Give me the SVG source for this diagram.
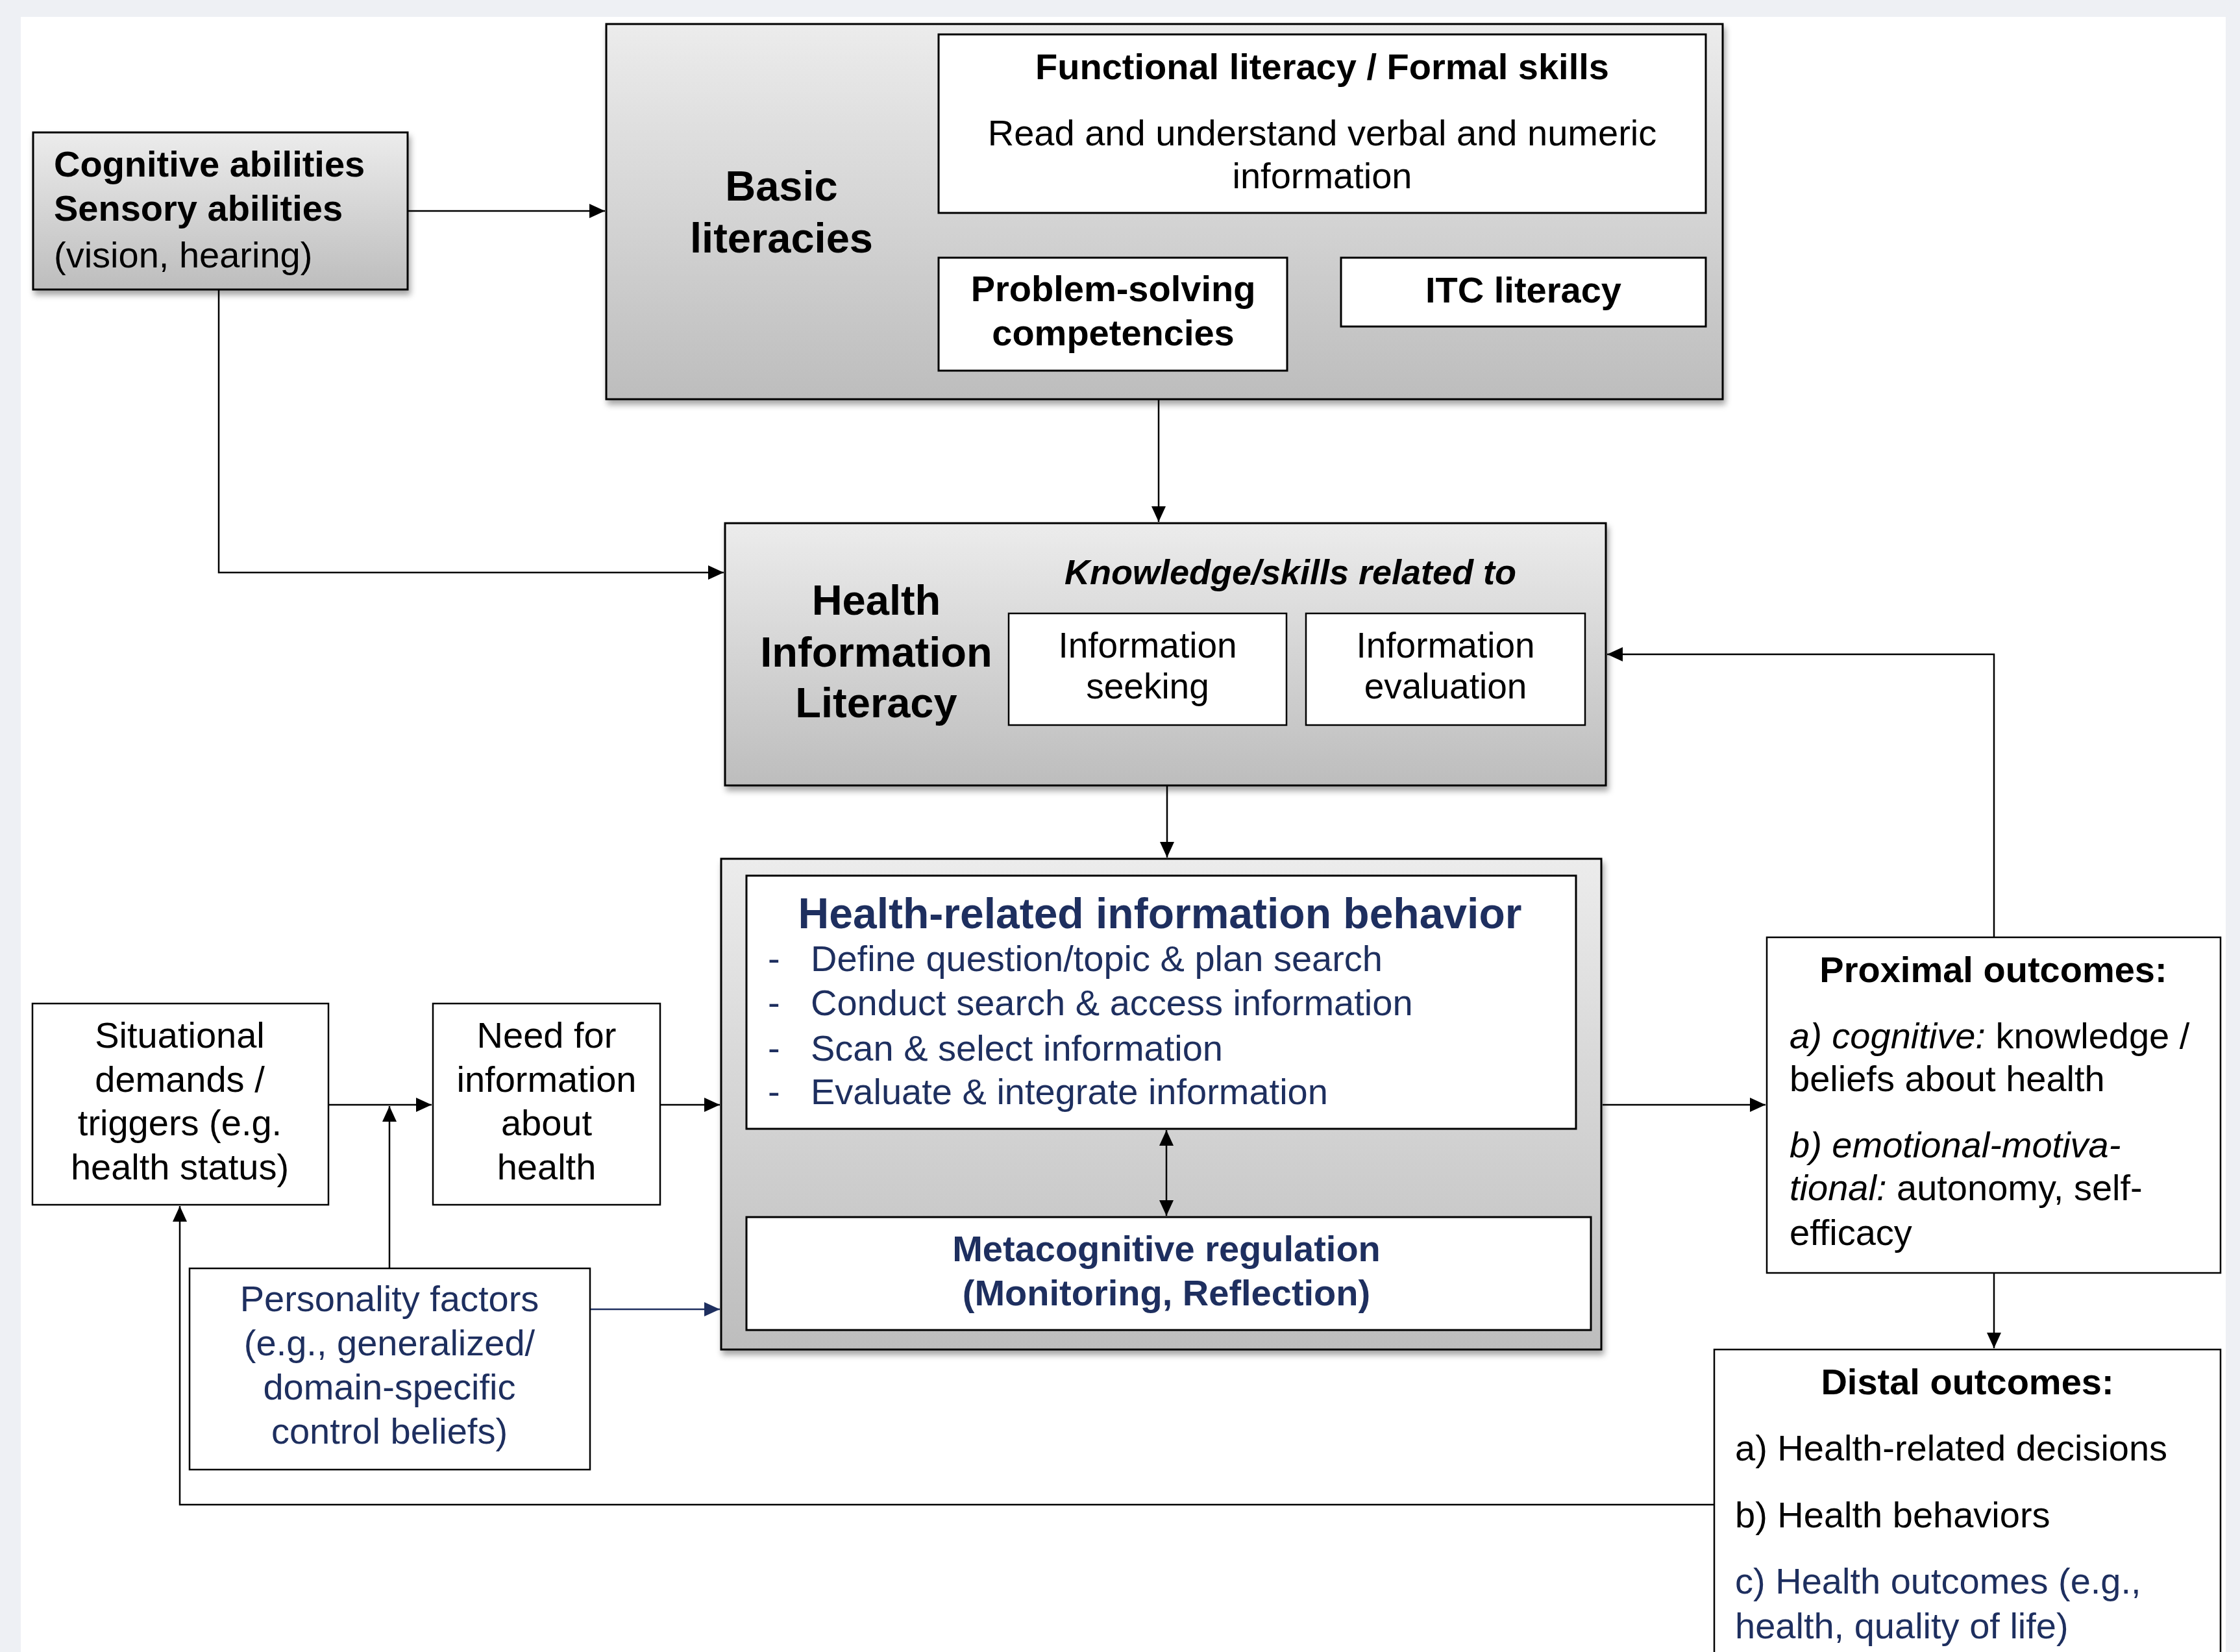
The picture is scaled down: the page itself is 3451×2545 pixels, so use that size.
<svg xmlns="http://www.w3.org/2000/svg" width="3451" height="2545" viewBox="0 0 3451 2545">
<defs>
<linearGradient id="g" x1="0" y1="0" x2="0" y2="1">
<stop offset="0" stop-color="#ececec"/>
<stop offset="1" stop-color="#bdbdbd"/>
</linearGradient>
<filter id="sh" x="-5%" y="-5%" width="115%" height="120%">
<feDropShadow dx="3" dy="7" stdDeviation="5" flood-color="#000" flood-opacity="0.35"/>
</filter>
<marker id="ah" viewBox="0 0 12 11" refX="12" refY="5.5" markerWidth="24" markerHeight="22" markerUnits="userSpaceOnUse" orient="auto-start-reverse">
<path d="M0,0 L12,5.5 L0,11 z" fill="#000"/>
</marker>
<marker id="ahn" viewBox="0 0 12 11" refX="12" refY="5.5" markerWidth="24" markerHeight="22" markerUnits="userSpaceOnUse" orient="auto">
<path d="M0,0 L12,5.5 L0,11 z" fill="#1e2f5f"/>
</marker>
<style>
text{font-family:"Liberation Sans",Arial,sans-serif;font-size:56px;fill:#000}
.b{font-weight:bold}
.i{font-style:italic}
.n{fill:#1e2f5f}
.c{text-anchor:middle}
.big{font-size:65px}
.outer{fill:url(#g);stroke:#000;stroke-width:3;filter:url(#sh)}
.box{fill:#fff;stroke:#000;stroke-width:3}
.wbox{fill:#fff;stroke:#000;stroke-width:2.5}
.ln{fill:none;stroke:#000;stroke-width:2.5}
.lnn{fill:none;stroke:#1e2f5f;stroke-width:2.5}
</style>
</defs>
<rect x="0" y="0" width="3451" height="2545" fill="#eef0f4"/>
<rect x="32" y="26" width="3397" height="2519" fill="#fff"/>

<g id="cognitive">
<rect class="outer" x="51" y="204" width="577" height="242"/>
<text class="b" x="83" y="272">Cognitive abilities</text>
<text class="b" x="83" y="340">Sensory abilities</text>
<text x="83" y="412">(vision, hearing)</text>
</g>

<g id="basic-literacies">
<rect class="outer" x="934" y="37" width="1720" height="578"/>
<text class="b big c" x="1204" y="309">Basic</text>
<text class="b big c" x="1204" y="389">literacies</text>
</g>
<g id="functional-literacy">
<rect class="box" x="1446" y="53" width="1182" height="275"/>
<text class="b c" x="2037" y="122">Functional literacy / Formal skills</text>
<text class="c" x="2037" y="224">Read and understand verbal and numeric</text>
<text class="c" x="2037" y="290">information</text>
</g>
<g id="problem-solving">
<rect class="box" x="1446" y="397" width="537" height="174"/>
<text class="b c" x="1715" y="464">Problem-solving</text>
<text class="b c" x="1715" y="532">competencies</text>
</g>
<g id="itc-literacy">
<rect class="box" x="2066" y="397" width="562" height="106"/>
<text class="b c" x="2347" y="466">ITC literacy</text>
</g>

<g id="health-information-literacy">
<rect class="outer" x="1117" y="806" width="1357" height="404"/>
<text class="b big c" x="1350" y="947">Health</text>
<text class="b big c" x="1350" y="1027">Information</text>
<text class="b big c" x="1350" y="1105">Literacy</text>
<text class="b i c" x="1988" y="900" style="font-size:54px">Knowledge/skills related to</text>
</g>
<g id="information-seeking">
<rect class="wbox" x="1554" y="945" width="428" height="172"/>
<text class="c" x="1768" y="1013" style="font-size:55px">Information</text>
<text class="c" x="1768" y="1076" style="font-size:55px">seeking</text>
</g>
<g id="information-evaluation">
<rect class="wbox" x="2012" y="945" width="430" height="172"/>
<text class="c" x="2227" y="1013" style="font-size:55px">Information</text>
<text class="c" x="2227" y="1076" style="font-size:55px">evaluation</text>
</g>

<g id="information-behavior-frame">
<rect class="outer" x="1111" y="1323" width="1356" height="756"/>
</g>
<g id="health-related-information-behavior">
<rect class="box" x="1150" y="1349" width="1278" height="390"/>
<text class="b n c" x="1787" y="1430" style="font-size:66px">Health-related information behavior</text>
<text class="n" x="1183" y="1496">-</text><text class="n" x="1249" y="1496">Define question/topic &amp; plan search</text>
<text class="n" x="1183" y="1564">-</text><text class="n" x="1249" y="1564">Conduct search &amp; access information</text>
<text class="n" x="1183" y="1634">-</text><text class="n" x="1249" y="1634">Scan &amp; select information</text>
<text class="n" x="1183" y="1701">-</text><text class="n" x="1249" y="1701">Evaluate &amp; integrate information</text>
</g>
<g id="metacognitive-regulation">
<rect class="box" x="1150" y="1875" width="1301" height="174"/>
<text class="b n c" x="1797" y="1943">Metacognitive regulation</text>
<text class="b n c" x="1797" y="2011">(Monitoring, Reflection)</text>
</g>

<g id="situational-demands">
<rect class="wbox" x="50" y="1546" width="456" height="310"/>
<text class="c" x="277" y="1614">Situational</text>
<text class="c" x="277" y="1682">demands /</text>
<text class="c" x="277" y="1749">triggers (e.g.</text>
<text class="c" x="277" y="1817">health status)</text>
</g>
<g id="need-for-information">
<rect class="wbox" x="667" y="1546" width="350" height="310"/>
<text class="c" x="842" y="1614">Need for</text>
<text class="c" x="842" y="1682">information</text>
<text class="c" x="842" y="1749">about</text>
<text class="c" x="842" y="1817">health</text>
</g>
<g id="personality-factors">
<rect class="wbox" x="292" y="1954" width="617" height="310"/>
<text class="n c" x="600" y="2020">Personality factors</text>
<text class="n c" x="600" y="2088">(e.g., generalized/</text>
<text class="n c" x="600" y="2156">domain-specific</text>
<text class="n c" x="600" y="2224">control beliefs)</text>
</g>

<g id="proximal-outcomes">
<rect class="wbox" x="2722" y="1444" width="699" height="517"/>
<text class="b c" x="3071" y="1513">Proximal outcomes:</text>
<text x="2757" y="1615"><tspan class="i">a) cognitive:</tspan> knowledge /</text>
<text x="2757" y="1681">beliefs about health</text>
<text class="i" x="2757" y="1783">b) emotional-motiva-</text>
<text x="2757" y="1849"><tspan class="i">tional:</tspan> autonomy, self-</text>
<text x="2757" y="1918">efficacy</text>
</g>

<g id="distal-outcomes">
<rect class="wbox" x="2641" y="2079" width="780" height="500"/>
<text class="b c" x="3031" y="2148">Distal outcomes:</text>
<text x="2673" y="2250">a) Health-related decisions</text>
<text x="2673" y="2353">b) Health behaviors</text>
<text class="n" x="2673" y="2455">c) Health outcomes (e.g.,</text>
<text class="n" x="2673" y="2524">health, quality of life)</text>
</g>

<g id="connectors">
<path class="ln" d="M628,325 H932" marker-end="url(#ah)"/>
<path class="ln" d="M337,446 V882 H1115" marker-end="url(#ah)"/>
<path class="ln" d="M1785,616 V804" marker-end="url(#ah)"/>
<path class="ln" d="M1798,1211 V1321" marker-end="url(#ah)"/>
<path class="ln" d="M1797,1741 V1873" marker-start="url(#ah)" marker-end="url(#ah)"/>
<path class="ln" d="M507,1702 H665" marker-end="url(#ah)"/>
<path class="ln" d="M600,1953 V1704" marker-end="url(#ah)"/>
<path class="ln" d="M1018,1702 H1109" marker-end="url(#ah)"/>
<path class="lnn" d="M910,2017 H1109" marker-end="url(#ahn)"/>
<path class="ln" d="M2469,1702 H2720" marker-end="url(#ah)"/>
<path class="ln" d="M3072,1443 V1008 H2476" marker-end="url(#ah)"/>
<path class="ln" d="M3072,1962 V2077" marker-end="url(#ah)"/>
<path class="ln" d="M2640,2318 H277 V1858" marker-end="url(#ah)"/>
</g>
</svg>
